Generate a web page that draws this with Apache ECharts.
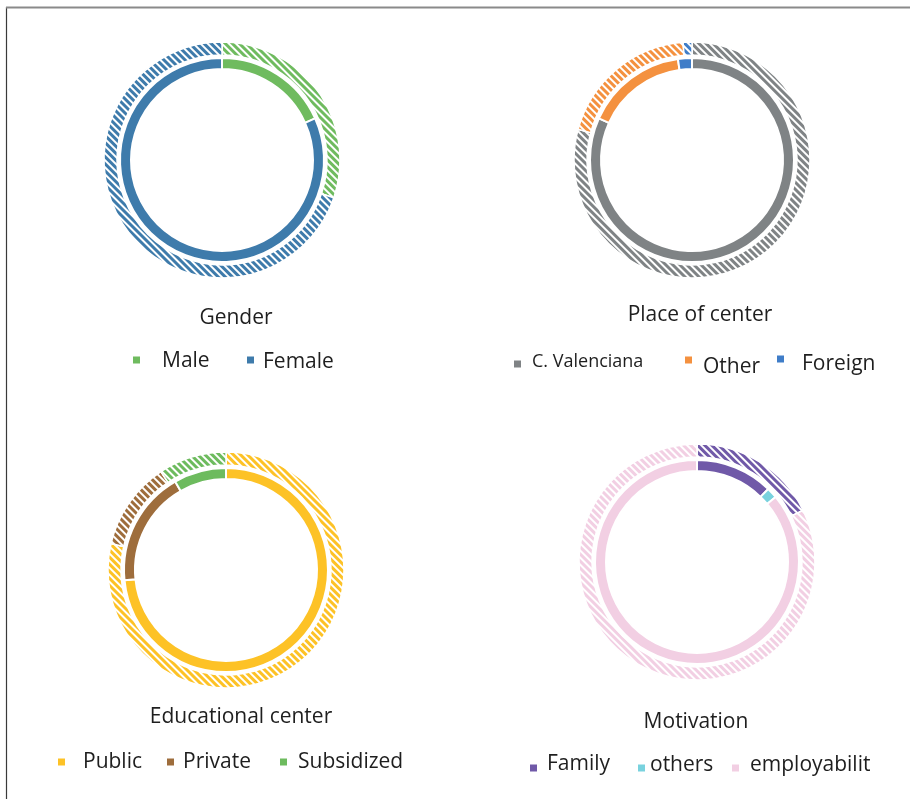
<!DOCTYPE html>
<html>
<head>
<meta charset="utf-8">
<script src="https://cdn.jsdelivr.net/npm/echarts@6/dist/echarts.min.js"></script>
<style>html,body{margin:0;padding:0;background:#fff}#c{width:910px;height:799px}</style>
</head>
<body>
<div id="c"></div>
<script>
// ---- data ----
const genderNames = ['Male', 'Female'];
const genderInner = [18.3, 81.7];
const genderOuter = [30.2, 69.8];

const placeNames = ['C. Valenciana', 'Other', 'Foreign'];
const placeInner = [81.7, 16.1, 2.2];
const placeOuter = [79.2, 19.6, 1.2];

const eduNames = ['Public', 'Private', 'Subsidized'];
const eduInner = [73.4, 18.3, 8.3];
const eduOuter = [78.6, 12.1, 9.3];

const motNames = ['Family', 'others', 'employabilit'];
const motInner = [12.3, 1.7, 86.0];
const motOuter = [17.8, 0, 82.2];

const titles = ['Gender', 'Place of center', 'Educational center', 'Motivation'];

// ---- styles / layout ----
const FONT = 'Open Sans';
const TXT = '#1e1e1e';
const panels = [
  {names: genderNames, inner: genderInner, outer: genderOuter, colors: ['#6fbb5f', '#3e7bab'],
   center: [222, 160], title: {x: 236, y: 318},
   legend: [{ix: 133, iy: 360, tx: 162, ty: 361.5, fs: 21}, {ix: 247, iy: 360, tx: 263, ty: 362, fs: 21}]},
  {names: placeNames, inner: placeInner, outer: placeOuter, colors: ['#7f8385', '#f4913f', '#3f7dc8'],
   center: [692, 160], title: {x: 700, y: 315},
   legend: [{ix: 514, iy: 364, tx: 532, ty: 362, fs: 18}, {ix: 685, iy: 360, tx: 703, ty: 367, fs: 21}, {ix: 777, iy: 359, tx: 802, ty: 364, fs: 21}]},
  {names: eduNames, inner: eduInner, outer: eduOuter, colors: ['#fdc226', '#9e6d3c', '#6dbb5e'],
   center: [226, 570], title: {x: 241, y: 717},
   legend: [{ix: 58, iy: 762, tx: 83, ty: 762, fs: 21}, {ix: 167, iy: 762, tx: 183, ty: 762, fs: 21}, {ix: 280, iy: 762, tx: 298, ty: 762, fs: 21}]},
  {names: motNames, inner: motInner, outer: motOuter, colors: ['#7059a8', '#79d2de', '#f2cfe3'],
   center: [697, 562], title: {x: 696, y: 722},
   legend: [{ix: 530, iy: 768, tx: 547, ty: 764, fs: 21}, {ix: 638, iy: 768, tx: 648, ty: 765, fs: 21}, {ix: 732, iy: 768, tx: 750, ty: 765, fs: 21}]}
];

const series = [];
const title = [];
const legend = [];
const ICON = 7;

panels.forEach((p, pi) => {
  series.push({
    type: 'pie', name: 'inner' + pi, center: p.center, radius: [91, 102],
    startAngle: 90, clockwise: true, silent: true, animation: false,
    label: {show: false}, labelLine: {show: false}, emphasis: {disabled: true},
    itemStyle: {borderColor: '#fff', borderWidth: 2},
    data: p.names.map((n, i) => ({name: n, value: p.inner[i], itemStyle: {color: p.colors[i]}}))
  });
  series.push({
    type: 'pie', name: 'outer' + pi, center: p.center, radius: [105, 118],
    startAngle: 90, clockwise: true, silent: true, animation: false,
    label: {show: false}, labelLine: {show: false}, emphasis: {disabled: true},
    data: p.names.map((n, i) => ({name: n, value: p.outer[i], itemStyle: {
      color: '#ffffff', borderColor: '#fff', borderWidth: 1.5,
      decal: {symbol: 'rect', symbolSize: 1, dashArrayX: [1, 0], dashArrayY: [2.6, 1.9], rotation: Math.PI / 4, color: p.colors[i]}
    }}))
  });
  title.push({
    text: titles[pi], left: p.title.x, top: p.title.y - 10.5, textAlign: 'center', padding: 0,
    textStyle: {fontSize: 21, fontWeight: 'normal', fontFamily: FONT, color: TXT}
  });
  p.legend.forEach((L, li) => {
    const d = L.ty - L.iy;
    const padL = Math.max(0, L.tx - (L.ix + ICON) - 5);
    const pad = d >= 0 ? [2 * d, 0, 0, padL] : [0, 0, -2 * d, padL];
    const boxH = L.fs + Math.abs(2 * d);
    legend.push({
      data: [p.names[li]], left: L.ix, top: L.iy - boxH / 2, padding: 0,
      icon: 'rect', itemWidth: ICON, itemHeight: ICON, selectedMode: false,
      itemStyle: {borderWidth: 0, color: p.colors[li]},
      formatter: n => '{a|' + n + '}',
      textStyle: {color: TXT, fontFamily: FONT, fontSize: L.fs,
        rich: {a: {fontFamily: FONT, fontSize: L.fs, lineHeight: L.fs, color: TXT, padding: pad}}}
    });
  });
});

const chart = echarts.init(document.getElementById('c'), null, {renderer: 'canvas'});
chart.setOption({
  backgroundColor: '#fff',
  animation: false,
  title, legend, series,
  graphic: [
    {type: 'line', shape: {x1: 6.5, y1: 7, x2: 6.5, y2: 799}, style: {stroke: '#3a3a3a', lineWidth: 1.2}, silent: true},
    {type: 'line', shape: {x1: 6, y1: 7.5, x2: 910, y2: 7.5}, style: {stroke: '#8a8a8a', lineWidth: 2}, silent: true}
  ]
});
</script>
</body>
</html>
